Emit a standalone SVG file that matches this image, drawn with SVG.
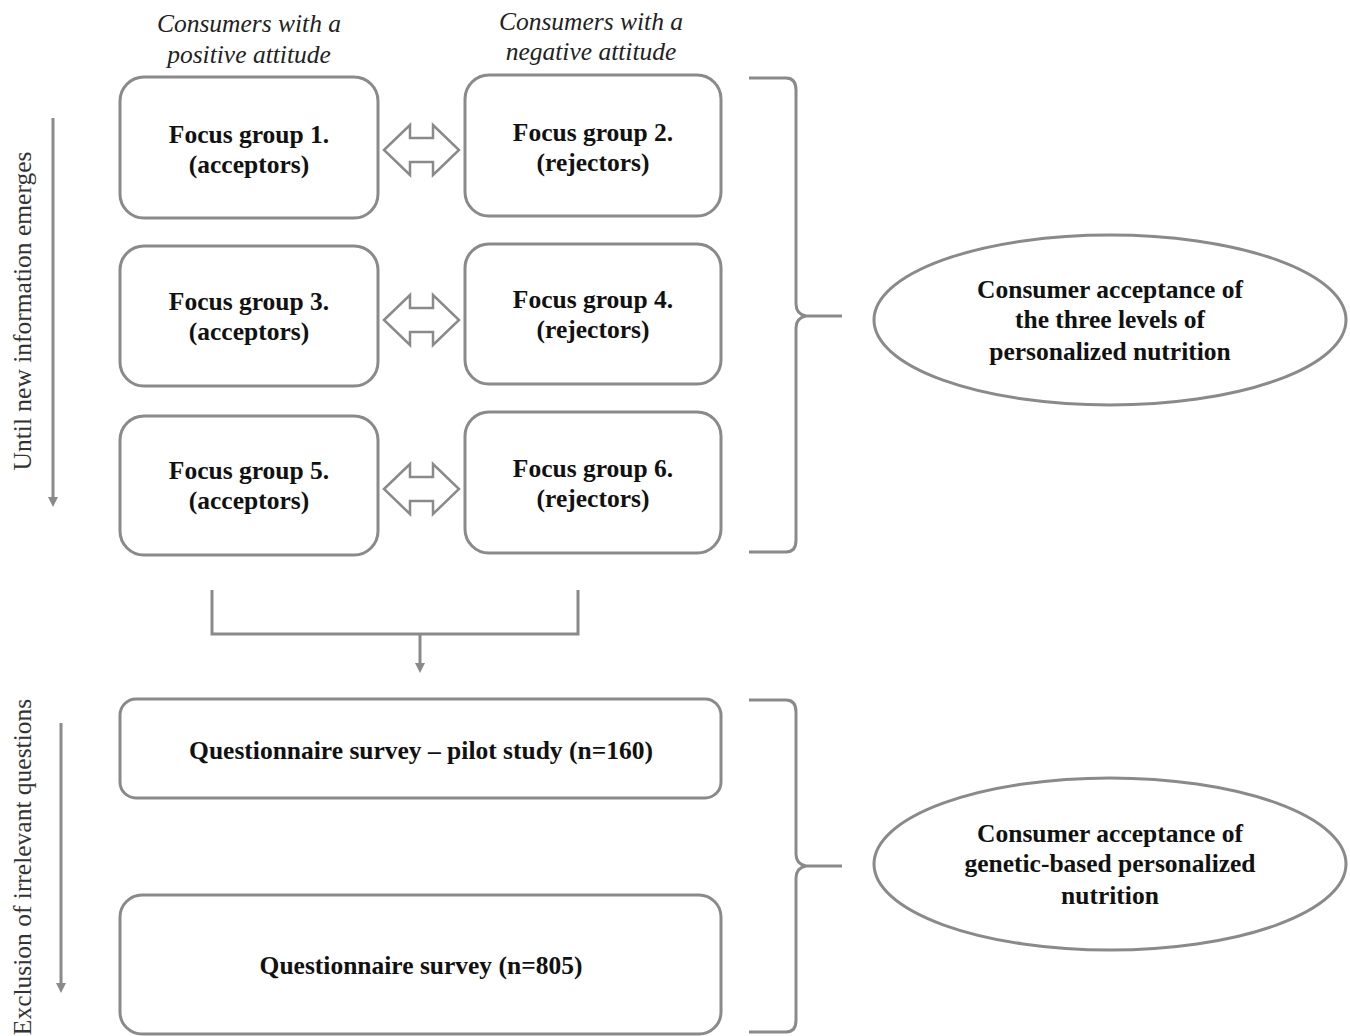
<svg xmlns="http://www.w3.org/2000/svg" width="1350" height="1036" viewBox="0 0 1350 1036">
<style>
.box{fill:#fff;stroke:#8a8a8a;stroke-width:3}
.t{font-family:"Liberation Serif","Times New Roman",serif;font-weight:bold;font-size:25.5px;fill:#111;text-anchor:middle}
.h{font-family:"Liberation Serif","Times New Roman",serif;font-style:italic;font-size:25.5px;fill:#222;text-anchor:middle}
.r{font-family:"Liberation Serif","Times New Roman",serif;font-size:25.5px;fill:#333;text-anchor:middle}
.ln{fill:none;stroke:#8a8a8a;stroke-width:3}
.dbl{fill:#fff;stroke:#8a8a8a;stroke-width:2.5;stroke-linejoin:miter}
</style>
<defs>
<marker id="ah" markerWidth="10" markerHeight="10" refX="5" refY="5" orient="auto" markerUnits="userSpaceOnUse">
<path d="M0,0 L10,5 L0,10 Z" fill="#8a8a8a"/>
</marker>
<polygon id="dbl" points="384,0 410,-25 410,-12 433,-12 433,-25 459,0 433,25 433,12 410,12 410,25"/>
</defs>
<rect width="1350" height="1036" fill="#fff"/>

<g id="headers">
<text class="h" x="249" y="32">Consumers with a</text>
<text class="h" x="249" y="63">positive attitude</text>
<text class="h" x="591" y="30">Consumers with a</text>
<text class="h" x="591" y="60">negative attitude</text>
</g>

<g id="fg1"><rect class="box" x="120" y="77" width="258" height="141" rx="24"/>
<text class="t" x="249" y="143">Focus group 1.</text><text class="t" x="249" y="173">(acceptors)</text></g>
<g id="fg2"><rect class="box" x="465" y="75" width="256" height="141" rx="24"/>
<text class="t" x="593" y="141">Focus group 2.</text><text class="t" x="593" y="171">(rejectors)</text></g>
<g id="fg3"><rect class="box" x="120" y="246" width="258" height="140" rx="24"/>
<text class="t" x="249" y="310">Focus group 3.</text><text class="t" x="249" y="340">(acceptors)</text></g>
<g id="fg4"><rect class="box" x="465" y="244" width="256" height="140" rx="24"/>
<text class="t" x="593" y="308">Focus group 4.</text><text class="t" x="593" y="338">(rejectors)</text></g>
<g id="fg5"><rect class="box" x="120" y="416" width="258" height="139" rx="24"/>
<text class="t" x="249" y="479">Focus group 5.</text><text class="t" x="249" y="509">(acceptors)</text></g>
<g id="fg6"><rect class="box" x="465" y="412" width="256" height="141" rx="24"/>
<text class="t" x="593" y="477">Focus group 6.</text><text class="t" x="593" y="507">(rejectors)</text></g>

<g id="pilot"><rect class="box" x="120" y="699" width="601" height="99" rx="16"/>
<text class="t" x="421" y="759">Questionnaire survey – pilot study (n=160)</text></g>
<g id="survey"><rect class="box" x="120" y="895" width="601" height="139" rx="22"/>
<text class="t" x="421" y="974">Questionnaire survey (n=805)</text></g>

<g id="outcome1"><ellipse class="box" cx="1110" cy="320" rx="236" ry="85"/>
<text class="t" x="1110" y="298">Consumer acceptance of</text>
<text class="t" x="1110" y="328">the three levels of</text>
<text class="t" x="1110" y="360">personalized nutrition</text></g>
<g id="outcome2"><ellipse class="box" cx="1110" cy="864" rx="236" ry="86"/>
<text class="t" x="1110" y="842">Consumer acceptance of</text>
<text class="t" x="1110" y="872">genetic-based personalized</text>
<text class="t" x="1110" y="904">nutrition</text></g>

<g id="side-labels">
<text class="r" transform="translate(31,311) rotate(-90)">Until new information emerges</text>
<text class="r" transform="translate(31,867) rotate(-90)">Exclusion of irrelevant questions</text>
</g>

<g id="connectors">
<use href="#dbl" class="dbl" transform="translate(0,150)"/>
<use href="#dbl" class="dbl" transform="translate(0,320)"/>
<use href="#dbl" class="dbl" transform="translate(0,489)"/>
<line class="ln" x1="53" y1="118" x2="53" y2="502" marker-end="url(#ah)"/>
<line class="ln" x1="61" y1="723" x2="61" y2="988" marker-end="url(#ah)"/>
<path class="ln" d="M212,590 V634 H578 V590"/>
<line class="ln" x1="420" y1="634" x2="420" y2="668" marker-end="url(#ah)"/>
<path class="ln" d="M749,78 H786 Q796,78 796,90 V304 Q796,314 806,316 H842 M806,316 Q796,318 796,328 V540 Q796,552 786,552 H749"/>
<path class="ln" d="M749,700 H786 Q796,700 796,712 V854 Q796,864 806,866 H842 M806,866 Q796,868 796,878 V1020 Q796,1032 786,1032 H749"/>
</g>
</svg>
